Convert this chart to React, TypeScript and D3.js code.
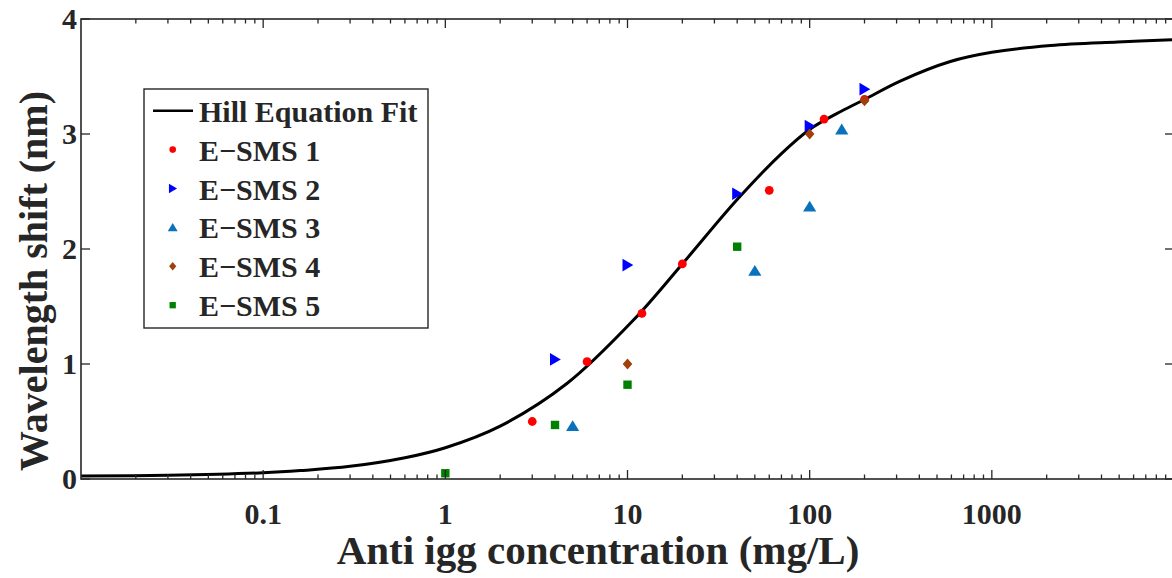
import React from 'react';
import * as d3 from 'd3';

// Hill fit curve at several concentrations
const fitX = [0.01, 0.03, 0.1, 0.16, 0.3, 0.6, 1, 2, 4.65, 10.75, 20, 40, 70, 100, 150, 200, 314, 592, 1000, 2100, 4900, 10000];
const fitY = [0.025, 0.032, 0.054, 0.073, 0.11, 0.185, 0.272, 0.46, 0.83, 1.38, 1.87, 2.43, 2.83, 3.04, 3.2, 3.3, 3.46, 3.63, 3.71, 3.77, 3.80, 3.82];

// measured points
const sms1X = [3, 6, 12, 20, 60, 120, 200];
const sms1Y = [0.5, 1.02, 1.44, 1.87, 2.51, 3.13, 3.3];
const sms2X = [4, 10, 40, 100, 200];
const sms2Y = [1.04, 1.86, 2.48, 3.07, 3.39];
const sms3X = [5, 50, 100, 150];
const sms3Y = [0.46, 1.81, 2.37, 3.04];
const sms4X = [10, 100, 200];
const sms4Y = [1.0, 3.0, 3.29];
const sms5X = [1, 4, 10, 40];
const sms5Y = [0.05, 0.47, 0.82, 2.02];

const xTickVals = [0.1, 1, 10, 100, 1000];
const xTickLabels = ['0.1', '1', '10', '100', '1000'];
const yTickVals = [0, 1, 2, 3, 4];

const fitLabel = 'Hill Equation Fit';

const series = [
  { name: 'E\u2212SMS 1', xs: sms1X, ys: sms1Y, shape: 'circle', color: '#ff0000' },
  { name: 'E\u2212SMS 2', xs: sms2X, ys: sms2Y, shape: 'right', color: '#0000ff' },
  { name: 'E\u2212SMS 3', xs: sms3X, ys: sms3Y, shape: 'up', color: '#0a72bd' },
  { name: 'E\u2212SMS 4', xs: sms4X, ys: sms4Y, shape: 'diamond', color: '#a0410d' },
  { name: 'E\u2212SMS 5', xs: sms5X, ys: sms5Y, shape: 'square', color: '#008000' },
];

const W = 1172;
const H = 578;
const left = 81, right = 1174, top = 19, bottom = 479;
const font = '"Liberation Serif", "Times New Roman", Times, serif';
const axisColor = '#262626';

// marker outlines centred on 0,0
function markerPath(shape: string, s: number) {
  switch (shape) {
    case 'circle': {
      const r = 4.4 * s;
      return `M${-r},0A${r},${r} 0 1,0 ${r},0A${r},${r} 0 1,0 ${-r},0Z`;
    }
    case 'right':
      return `M${-5 * s},${-6.3 * s}L${5.8 * s},0L${-5 * s},${6.3 * s}Z`;
    case 'up':
      return `M${-6.6 * s},${5 * s}L${6.6 * s},${5 * s}L0,${-5.8 * s}Z`;
    case 'diamond':
      return `M0,${-5.6 * s}L${4.8 * s},0L0,${5.6 * s}L${-4.8 * s},0Z`;
    default:
      return `M${-4.2 * s},${-4.2 * s}H${4.2 * s}V${4.2 * s}H${-4.2 * s}Z`;
  }
}

export default function App() {
  const x = d3.scaleLog().domain([0.01, 10000]).range([left, right]);
  const y = d3.scaleLinear().domain([0, 4]).range([bottom, top]);

  const fitPts: [number, number][] = fitX.map((v, i) => [v, fitY[i]]);
  const line = d3.line<[number, number]>()
    .x(d => x(d[0]))
    .y(d => y(d[1]))
    .curve(d3.curveCatmullRom.alpha(0.5));

  // minor ticks 2..9 for each decade
  const minor: number[] = [];
  for (let e = -2; e < 4; e++) {
    for (let m = 2; m <= 9; m++) minor.push(m * Math.pow(10, e));
  }

  const legX = 144, legY = 89, legW = 284, legH = 239;
  const rowH = 38.9;
  const firstRow = 110.7;

  return (
    <svg width={W} height={H} style={{ position: 'absolute', left: 0, top: 0, background: '#fff' }}
      fontFamily={font} fontWeight="bold">
      <defs>
        <clipPath id="plot">
          <rect x={left} y={top - 5} width={right - left} height={bottom - top + 10} />
        </clipPath>
      </defs>
      <rect x={0} y={0} width={W} height={H} fill="#fff" />

      {/* fit curve */}
      <path d={line(fitPts) || ''} fill="none" stroke="#000" strokeWidth={3} clipPath="url(#plot)" />

      {/* data markers */}
      {series.map(s => (
        <g key={s.name}>
          {s.xs.map((v, i) => (
            <path key={i} d={markerPath(s.shape, 1)} fill={s.color}
              transform={`translate(${x(v)},${y(s.ys[i])})`} />
          ))}
        </g>
      ))}

      {/* axes box */}
      <rect x={left} y={top} width={right - left} height={bottom - top} fill="none" stroke={axisColor} strokeWidth={1.6} />

      {/* x ticks, bottom and top */}
      {xTickVals.map(v => (
        <g key={'xt' + v}>
          <line x1={x(v)} x2={x(v)} y1={bottom} y2={bottom - 9} stroke={axisColor} strokeWidth={1.3} />
          <line x1={x(v)} x2={x(v)} y1={top} y2={top + 9} stroke={axisColor} strokeWidth={1.3} />
        </g>
      ))}
      {minor.map(v => (
        <g key={'xm' + v}>
          <line x1={x(v)} x2={x(v)} y1={bottom} y2={bottom - 4.5} stroke={axisColor} strokeWidth={1.3} />
          <line x1={x(v)} x2={x(v)} y1={top} y2={top + 4.5} stroke={axisColor} strokeWidth={1.3} />
        </g>
      ))}
      {xTickVals.map((v, i) => (
        <text key={'xl' + v} x={x(v)} y={524} textAnchor="middle" fontSize={30} fill="#262626">
          {xTickLabels[i]}
        </text>
      ))}

      {/* y ticks, left and right */}
      {yTickVals.map(v => (
        <g key={'yt' + v}>
          <line x1={left} x2={left + 9} y1={y(v)} y2={y(v)} stroke={axisColor} strokeWidth={1.3} />
          <line x1={right} x2={right - 9} y1={y(v)} y2={y(v)} stroke={axisColor} strokeWidth={1.3} />
          <text x={77} y={y(v)} dy="0.34em" textAnchor="end" fontSize={30} fill="#262626">{v}</text>
        </g>
      ))}

      {/* axis titles */}
      <text x={598} y={564} textAnchor="middle" fontSize={41} fill="#262626">
        Anti igg concentration (mg/L)
      </text>
      <text transform="translate(47,281) rotate(-90)" textAnchor="middle" fontSize={40} fill="#262626">
        Wavelength shift (nm)
      </text>

      {/* legend */}
      <rect x={legX} y={legY} width={legW} height={legH} fill="#fff" stroke={axisColor} strokeWidth={1.4} />
      <line x1={153} x2={193} y1={firstRow} y2={firstRow} stroke="#000" strokeWidth={2.5} />
      <text x={199} y={firstRow + 11} fontSize={30} fill="#262626">{fitLabel}</text>
      {series.map((s, i) => {
        const cy = firstRow + rowH * (i + 1);
        return (
          <g key={'lg' + s.name}>
            <path d={markerPath(s.shape, 0.75)} fill={s.color} transform={`translate(172.7,${cy})`} />
            <text x={199} y={cy + 11} fontSize={30} fill="#262626">{s.name}</text>
          </g>
        );
      })}
    </svg>
  );
}
